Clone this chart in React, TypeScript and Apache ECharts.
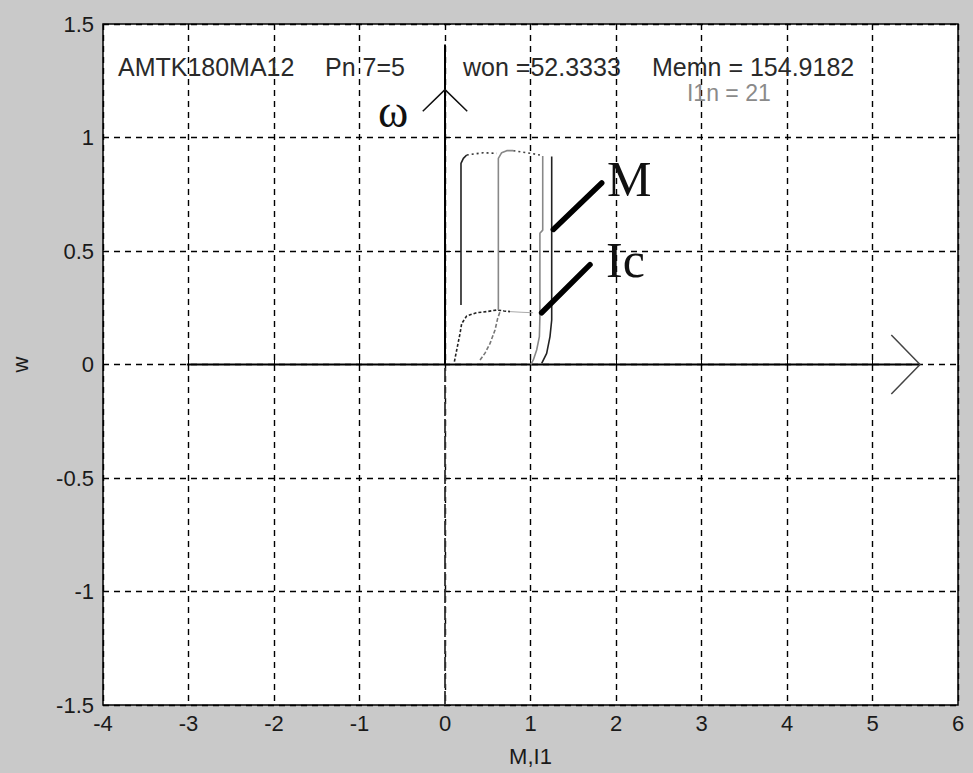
import React, { useEffect, useRef } from "react";
import * as echarts from "echarts";

// Axis ranges
const X_MIN = -4;
const X_MAX = 6;
const X_STEP = 1;
const Y_MIN = -1.5;
const Y_MAX = 1.5;
const Y_STEP = 0.5;

// Curves (x = M or I1, y = w)
const icLeft = [[0.11, 0.013], [0.137, 0.064], [0.176, 0.137], [0.195, 0.18], [0.254, 0.214], [0.37, 0.228], [0.488, 0.233], [0.605, 0.24], [0.69, 0.236], [0.76, 0.233]];
const icLeftTail = [[0.76, 0.233], [0.9, 0.23], [1.03, 0.228]];
const icMid = [[0.41, 0.02], [0.468, 0.05], [0.527, 0.093], [0.585, 0.152], [0.616, 0.203], [0.644, 0.233]];
const mLeft = [[0.187, 0.262], [0.187, 0.886], [0.215, 0.908], [0.254, 0.923]];
const mLeftTop = [[0.254, 0.923], [0.449, 0.933], [0.605, 0.93]];
const mMid = [[0.624, 0.24], [0.624, 0.908], [0.663, 0.933], [0.722, 0.942], [0.8, 0.942]];
const mMidTop = [[0.8, 0.942], [0.955, 0.933], [1.11, 0.923]];
const icRight = [[1.143, 0.918], [1.143, 0.592], [1.11, 0.578], [1.11, 0.21], [1.104, 0.123], [1.072, 0.064], [1.033, 0.02], [1.002, 0]];
const mRight = [[1.248, 0.916], [1.248, 0.196], [1.228, 0.123], [1.189, 0.049], [1.131, 0.005]];

// Drawn axes, arrows and pointers
const omegaAxis = [[0, 0], [0, 1.41]];
const omegaAxisBelow = [[0, Y_MIN], [0, 0]];
const omegaArrow = [[-0.26, 1.116], [0, 1.211], [0.26, 1.116]];
const mAxis = [[-3.02, 0], [5.556, 0]];
const mArrow = [[5.22, 0.13], [5.556, 0], [5.22, -0.13]];
const pointerM = [[1.267, 0.595], [1.833, 0.8]];
const pointerIc = [[1.13, 0.228], [1.696, 0.44]];

// Texts (anchor in data coordinates: left edge, vertical middle)
const headerTexts = [
  { text: "AMTK180MA12", at: [-3.825, 1.31], color: "#2a2a2a", size: 25 },
  { text: "Pn 7=5", at: [-1.404, 1.31], color: "#2a2a2a", size: 25 },
  { text: "won =52.3333", at: [0.211, 1.31], color: "#2a2a2a", size: 25 },
  { text: "Memn = 154.9182", at: [2.421, 1.31], color: "#2a2a2a", size: 25 },
  { text: "I1n = 21", at: [2.83, 1.198], color: "#8a8a8a", size: 23 },
];
const curveTexts = [
  { text: "M", at: [1.895, 0.817] },
  { text: "Ic", at: [1.883, 0.46] },
  { text: "ω", at: [-0.784, 1.115] },
];

function ln(data: number[][], color: string, width: number, type: any = "solid", z = 3, cap: any = "butt") {
  return {
    type: "line",
    data,
    symbol: "none",
    showSymbol: false,
    silent: true,
    z,
    lineStyle: { color, width, type, cap },
  };
}

export default function App() {
  const ref = useRef<HTMLDivElement>(null);
  useEffect(() => {
    if (!ref.current) return;
    document.body.style.margin = "0";
    const chart = echarts.init(ref.current, undefined, { renderer: "svg" });
    const labelStyle = { fontFamily: "Liberation Sans, Arial, sans-serif", fontSize: 22, color: "#1a1a1a" };
    chart.setOption({
      animation: false,
      backgroundColor: "#c9c9c9",
      grid: {
        left: 103,
        top: 24,
        width: 855,
        height: 681,
        show: true,
        backgroundColor: "#ffffff",
        borderColor: "#000000",
        borderWidth: 1.5,
      },
      xAxis: {
        type: "value",
        min: X_MIN,
        max: X_MAX,
        interval: X_STEP,
        name: "M,I1",
        nameLocation: "middle",
        nameGap: 40,
        nameTextStyle: labelStyle,
        axisLine: { show: false },
        axisTick: { show: true, inside: true, length: 6, lineStyle: { color: "#000" } },
        axisLabel: { ...labelStyle, margin: 7 },
        splitLine: { show: true, lineStyle: { color: "#000", type: [6, 5], width: 1.4 } },
      },
      yAxis: {
        type: "value",
        min: Y_MIN,
        max: Y_MAX,
        interval: Y_STEP,
        name: "w",
        nameLocation: "middle",
        nameGap: 72,
        nameTextStyle: labelStyle,
        axisLine: { show: false },
        axisTick: { show: true, inside: true, length: 6, lineStyle: { color: "#000" } },
        axisLabel: { ...labelStyle, margin: 9 },
        splitLine: { show: true, lineStyle: { color: "#000", type: [6, 5], width: 1.4 } },
      },
      series: [
        ln(omegaAxisBelow, "#333", 1.8, [14, 3], 2),
        ln(omegaAxis, "#000", 2, "solid", 4),
        ln(omegaArrow, "#111", 1.5, "solid", 4),
        ln(mAxis, "#000", 2, "solid", 4),
        ln(mArrow, "#444", 1.5, "solid", 4),
        ln(icLeft, "#222", 1.6, [3, 2], 5),
        ln(icLeftTail, "#aaa", 1, "solid", 5),
        ln(icMid, "#777", 1.6, [4, 2], 5),
        ln(mLeft, "#222", 1.6, "solid", 5),
        ln(mLeftTop, "#333", 1.6, [2, 3], 5),
        ln(mMid, "#888", 1.6, "solid", 5),
        ln(mMidTop, "#444", 1.6, [2, 3], 5),
        ln(icRight, "#888", 1.6, "solid", 5),
        ln(mRight, "#222", 1.6, "solid", 5),
        ln(pointerM, "#000", 5.5, "solid", 6, "round"),
        ln(pointerIc, "#000", 5.5, "solid", 6, "round"),
      ],
    });
    const graphic: any[] = [];
    headerTexts.forEach((t) => {
      const p = chart.convertToPixel({ gridIndex: 0 }, t.at) as number[];
      graphic.push({
        type: "text",
        x: p[0],
        y: p[1],
        z: 10,
        style: {
          text: t.text,
          fill: t.color,
          font: t.size + "px 'Liberation Sans', Arial, sans-serif",
          textAlign: "left",
          textVerticalAlign: "middle",
        },
      });
    });
    curveTexts.forEach((t) => {
      const p = chart.convertToPixel({ gridIndex: 0 }, t.at) as number[];
      const isOmega = t.text === "ω";
      graphic.push({
        type: "text",
        x: p[0],
        y: p[1],
        z: 10,
        style: {
          text: t.text,
          fill: "#111",
          font: (isOmega ? "46px" : "50px") + " 'Liberation Serif', 'Times New Roman', serif",
          textAlign: "left",
          textVerticalAlign: "middle",
        },
      });
    });
    chart.setOption({ graphic });
    return () => chart.dispose();
  }, []);
  return <div ref={ref} style={{ position: "fixed", left: 0, top: 0, width: 973, height: 773 }} />;
}
